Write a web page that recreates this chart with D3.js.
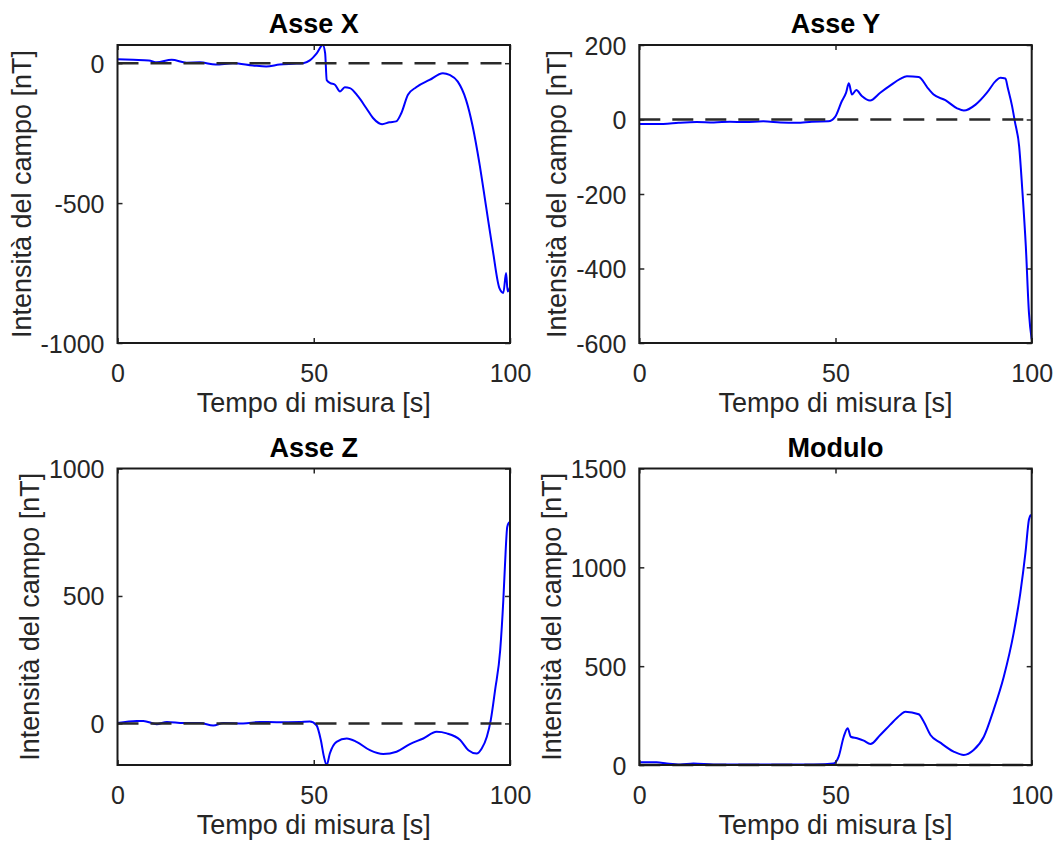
<!DOCTYPE html>
<html><head><meta charset="utf-8">
<script src="https://cdn.jsdelivr.net/npm/d3@7"></script>
<style>body{margin:0;background:#fff}</style>
</head><body>
<svg id="chart" width="1056" height="844"></svg>
<script>
// ---------- data ----------
const titles = ["Asse X", "Asse Y", "Asse Z", "Modulo"];
const xLabel = "Tempo di misura [s]";
const yLabel = "Intensità del campo [nT]";
const xLimits = [0, 100];
const xTicks = [0, 50, 100];

const tX = [0,4,8,10,13.8,17.6,21,25,29.4,34.5,37.9,41.3,44.7,47.3,49,50.8,52.3,52.9,53.3,54.2,55.4,56.7,57.9,59.2,61.3,63.4,65.1,67.4,69.3,71,72.3,74,76.1,79.5,82.9,84.6,86.7,88.8,90.5,92.2,93.9,95.6,97.3,98.3,99,99.4,100];
const vX = [14,12,10,3,12,2,3,-5,0,-8,-12,-5,-2,0,10,36,65,36,-60,-71,-77,-101,-86,-89,-119,-161,-196,-218,-211,-208,-179,-113,-86,-60,-36,-42,-66,-131,-226,-357,-512,-667,-804,-821,-750,-816,-800];

const tY = [0,6.1,10,14.6,19,23.1,27,31.6,36,40.1,44,48.2,49.9,51.6,52.7,53.4,54.2,55.3,56.7,58.8,61.4,63.9,66.5,68.2,71.2,73.7,75,78,81,82.7,85.7,88.6,90.8,92,93.3,93.9,95,95.7,96.8,97.6,98.5,99.3,100];
const vY = [-12,-12,-9,-7,-8,-6,-7,-5,-8,-9,-6,-5,7,49,72,97,67,79,63,51,72,91,109,116,114,82,67,52,30,24,40,72,103,112,110,85,36,-5,-72,-188,-340,-519,-590];

const tZ = [0,4.9,6.6,10,12.6,16.8,21,24.4,27,32,36.3,40.5,46.4,49,50.7,51.8,52.6,53.3,54.1,55.8,58.4,60.9,64.3,67.7,71.1,74.5,77.9,81.3,83.9,87.3,89.4,91.5,92.8,94.1,95.1,96.2,97.5,98.3,98.7,99.3,99.8];
const vZ = [2,10,10,-3,6,2,2,-8,2,0,6,5,6,8,-7,-65,-131,-163,-118,-72,-59,-72,-105,-120,-111,-81,-59,-33,-39,-65,-105,-118,-98,-52,13,131,287,484,614,771,790];

const tM = [0,4.4,7,10.4,13.8,18.9,27.4,35.9,44.4,49.5,50.8,52.1,53.1,53.9,55.5,57.2,58.9,61.4,63.9,66.5,67.8,71.2,72.5,74.2,76.7,80.1,82.7,85.2,87.8,90.3,92.9,95.4,97.1,98.4,99.3,99.8];
const vM = [14,14,8,3,8,3,2,2,3,8,42,143,186,143,135,123,106,152,203,253,270,257,219,152,113,68,51,76,143,279,448,667,870,1073,1242,1267];

const yLimX = [-1000, 65],  yTicksX = [-1000, -500, 0];
const yLimY = [-600, 200],  yTicksY = [-600, -400, -200, 0, 200];
const yLimZ = [-163, 1000], yTicksZ = [0, 500, 1000];
const yLimM = [0, 1500],    yTicksM = [0, 500, 1000, 1500];

// ---------- layout ----------
const boxes = [
  {x0:117.5, x1:510,    y0:45,    y1:343},
  {x0:639.3, x1:1031.7, y0:45,    y1:343},
  {x0:117.5, x1:510,    y0:468.5, y1:765},
  {x0:639.3, x1:1031.7, y0:468.5, y1:765}
];
const panels = [
  {t:tX, v:vX, lim:yLimX, ticks:yTicksX},
  {t:tY, v:vY, lim:yLimY, ticks:yTicksY},
  {t:tZ, v:vZ, lim:yLimZ, ticks:yTicksZ},
  {t:tM, v:vM, lim:yLimM, ticks:yTicksM}
];

const svg = d3.select("#chart");
const FONT = "'Liberation Sans', Arial, Helvetica, sans-serif";
const axisColor = "#262626";

panels.forEach((p, i) => {
  const b = boxes[i];
  const x = d3.scaleLinear().domain(xLimits).range([b.x0, b.x1]);
  const y = d3.scaleLinear().domain(p.lim).range([b.y1, b.y0]);
  const g = svg.append("g");

  // data line
  const line = d3.line().x((d, k) => x(p.t[k])).y(d => y(d)).curve(d3.curveMonotoneX);
  g.append("path").datum(p.v)
    .attr("d", line)
    .attr("fill", "none")
    .attr("stroke", "#0000ff")
    .attr("stroke-width", 2)
    .attr("stroke-linejoin", "round");

  // dashed zero line
  g.append("line")
    .attr("x1", x(xLimits[0])).attr("x2", x(xLimits[1]))
    .attr("y1", y(0)).attr("y2", y(0))
    .attr("stroke", "#2a2a2a")
    .attr("stroke-width", 2.5)
    .attr("stroke-dasharray", "21,12");

  // axes
  const styleAxis = sel => {
    sel.select(".domain").remove();
    sel.selectAll(".tick line").attr("stroke", axisColor).attr("stroke-width", 1.5);
    sel.selectAll("text").attr("font-family", FONT).attr("font-size", 25).attr("fill", axisColor);
  };
  const gb = g.append("g").attr("transform", `translate(0,${b.y1})`)
    .call(d3.axisBottom(x).tickValues(xTicks).tickSizeInner(-5).tickSizeOuter(0))
    .call(styleAxis);
  gb.selectAll("text").attr("y", 39).attr("dy", null);

  g.append("g").attr("transform", `translate(0,${b.y0})`)
    .call(d3.axisTop(x).tickValues(xTicks).tickSizeInner(-5).tickSizeOuter(0).tickFormat(""))
    .call(styleAxis);

  const gl = g.append("g").attr("transform", `translate(${b.x0},0)`)
    .call(d3.axisLeft(y).tickValues(p.ticks).tickSizeInner(-5).tickSizeOuter(0).tickPadding(13))
    .call(styleAxis);
  gl.selectAll("text").attr("dy", "0.36em").text(d => d < 0 ? "-" + Math.abs(d) : String(d));

  g.append("g").attr("transform", `translate(${b.x1},0)`)
    .call(d3.axisRight(y).tickValues(p.ticks).tickSizeInner(-5).tickSizeOuter(0).tickFormat(""))
    .call(styleAxis);

  // box
  g.append("rect")
    .attr("x", b.x0).attr("y", b.y0)
    .attr("width", b.x1 - b.x0).attr("height", b.y1 - b.y0)
    .attr("fill", "none").attr("stroke", "#1a1a1a").attr("stroke-width", 2);

  // title
  g.append("text")
    .attr("x", (b.x0 + b.x1) / 2).attr("y", b.y0 - 12)
    .attr("text-anchor", "middle")
    .attr("font-family", FONT).attr("font-weight", "bold").attr("font-size", 27)
    .attr("fill", "#000")
    .text(titles[i]);

  // x label
  g.append("text")
    .attr("x", (b.x0 + b.x1) / 2).attr("y", b.y1 + 69)
    .attr("text-anchor", "middle")
    .attr("font-family", FONT).attr("font-size", 27)
    .attr("fill", axisColor)
    .text(xLabel);

  // y label, placed left of widest tick label
  let minX = Infinity;
  gl.selectAll("text").each(function() {
    const bb = this.getBBox();
    minX = Math.min(minX, b.x0 + bb.x);
  });
  const lx = minX - 10, ly = (b.y0 + b.y1) / 2;
  g.append("text")
    .attr("transform", `translate(${lx},${ly}) rotate(-90)`)
    .attr("text-anchor", "middle")
    .attr("font-family", FONT).attr("font-size", 27)
    .attr("fill", axisColor)
    .text(yLabel);
});
</script>
</body></html>
